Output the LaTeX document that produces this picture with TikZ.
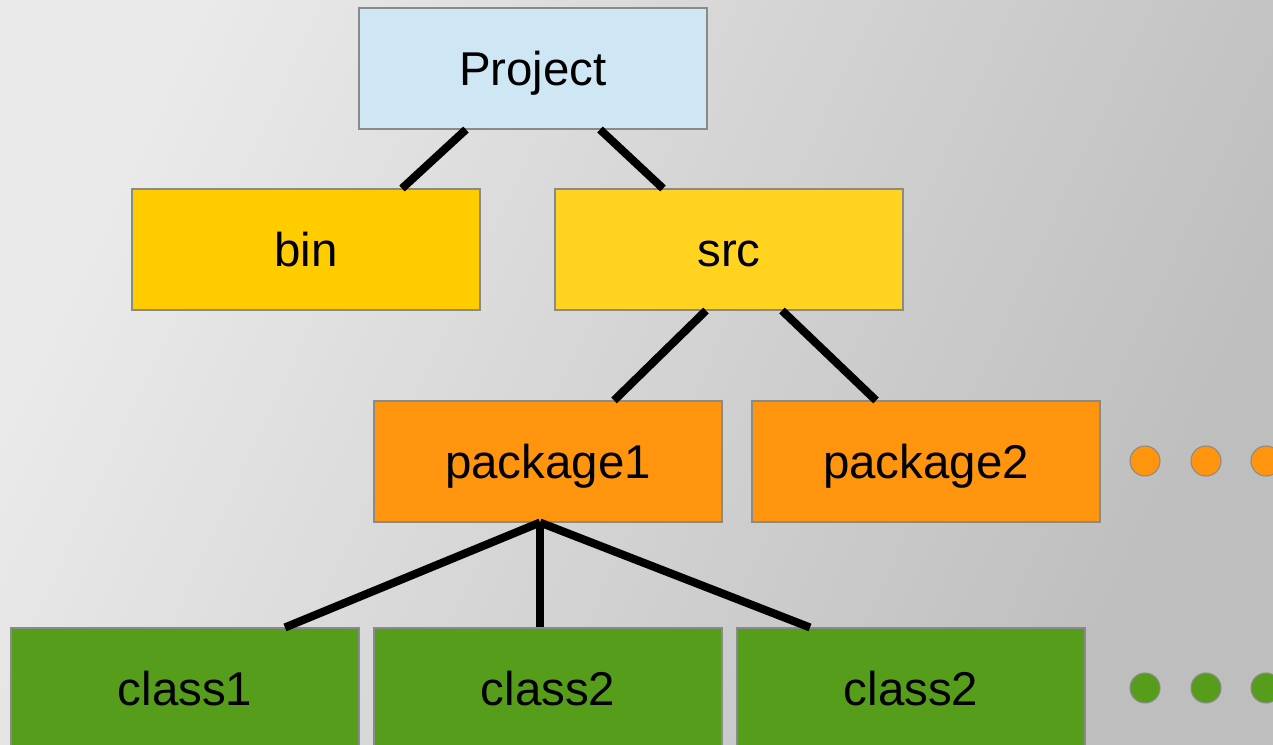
\documentclass[tikz,border=0pt]{standalone}
\usepackage{fontspec}
\setmainfont{Liberation Sans}
\usetikzlibrary{positioning,calc}

\definecolor{prjblue}{HTML}{CFE7F5}
\definecolor{binyellow}{HTML}{FFCC00}
\definecolor{srcyellow}{HTML}{FFD320}
\definecolor{pkgorange}{HTML}{FF950E}
\definecolor{clsgreen}{HTML}{579D1C}
\definecolor{boxrim}{HTML}{8A8A8A}
\definecolor{bglight}{HTML}{EAEAEA}
\definecolor{bgdark}{HTML}{BEBEBE}

\tikzset{
  dirbox/.style={draw=boxrim, line width=0.6pt, minimum width=6.96cm, minimum height=2.42cm,
    inner sep=0pt, text height=19.4pt, text depth=0pt, font=\fontsize{27}{32}\selectfont},
  branch/.style={line width=4.6pt},
  moredot/.style={draw=boxrim, line width=0.6pt}
}

\begin{document}
\begin{tikzpicture}
    \useasboundingbox (0,0) rectangle (25.46,14.9);
    \clip (0,0) rectangle (25.46,14.9);
    \shade[top color=bglight, bottom color=bgdark, shading angle=65] (0,0) rectangle (25.46,14.9);
    % tree of folders
    \node[dirbox, fill=prjblue] (prj) at (10.66,13.53) {Project};
    \node[dirbox, fill=binyellow] (bin) at (6.12,9.91) {bin};
    \node[dirbox, fill=srcyellow] (src) at (14.58,9.91) {src};
    \node[dirbox, fill=pkgorange] (pkgA) at (10.96,5.67) {package1};
    \node[dirbox, fill=pkgorange] (pkgB) at (18.52,5.67) {package2};
    \node[dirbox, fill=clsgreen] (clsA) at (3.70,1.13) {class1};
    \node[dirbox, fill=clsgreen] (clsB) at (10.96,1.13) {class2};
    \node[dirbox, fill=clsgreen] (clsC) at (18.22,1.13) {class2};
    \draw[branch] ([xshift=-1.34cm]prj.south) -- ([xshift=1.92cm]bin.north);
    \draw[branch] ([xshift=1.34cm]prj.south) -- ([xshift=-1.32cm]src.north);
    \draw[branch] ([xshift=-0.46cm]src.south) -- ([xshift=1.32cm]pkgA.north);
    \draw[branch] ([xshift=1.06cm]src.south) -- ([xshift=-1.0cm]pkgB.north);
    \draw[branch] ([xshift=-0.16cm]pkgA.south) -- ([xshift=2.0cm]clsA.north);
    \draw[branch] ([xshift=-0.16cm]pkgA.south) -- ([xshift=-0.16cm]clsB.north);
    \draw[branch] ([xshift=-0.16cm]pkgA.south) -- ([xshift=-2.02cm]clsC.north);
    % more of them
    \foreach \x in {22.9,24.12,25.32} {
      \fill[moredot, fill=pkgorange] (\x,5.68) circle (0.3);
      \fill[moredot, fill=clsgreen] (\x,1.14) circle (0.3);
    }
\end{tikzpicture}
\end{document}
